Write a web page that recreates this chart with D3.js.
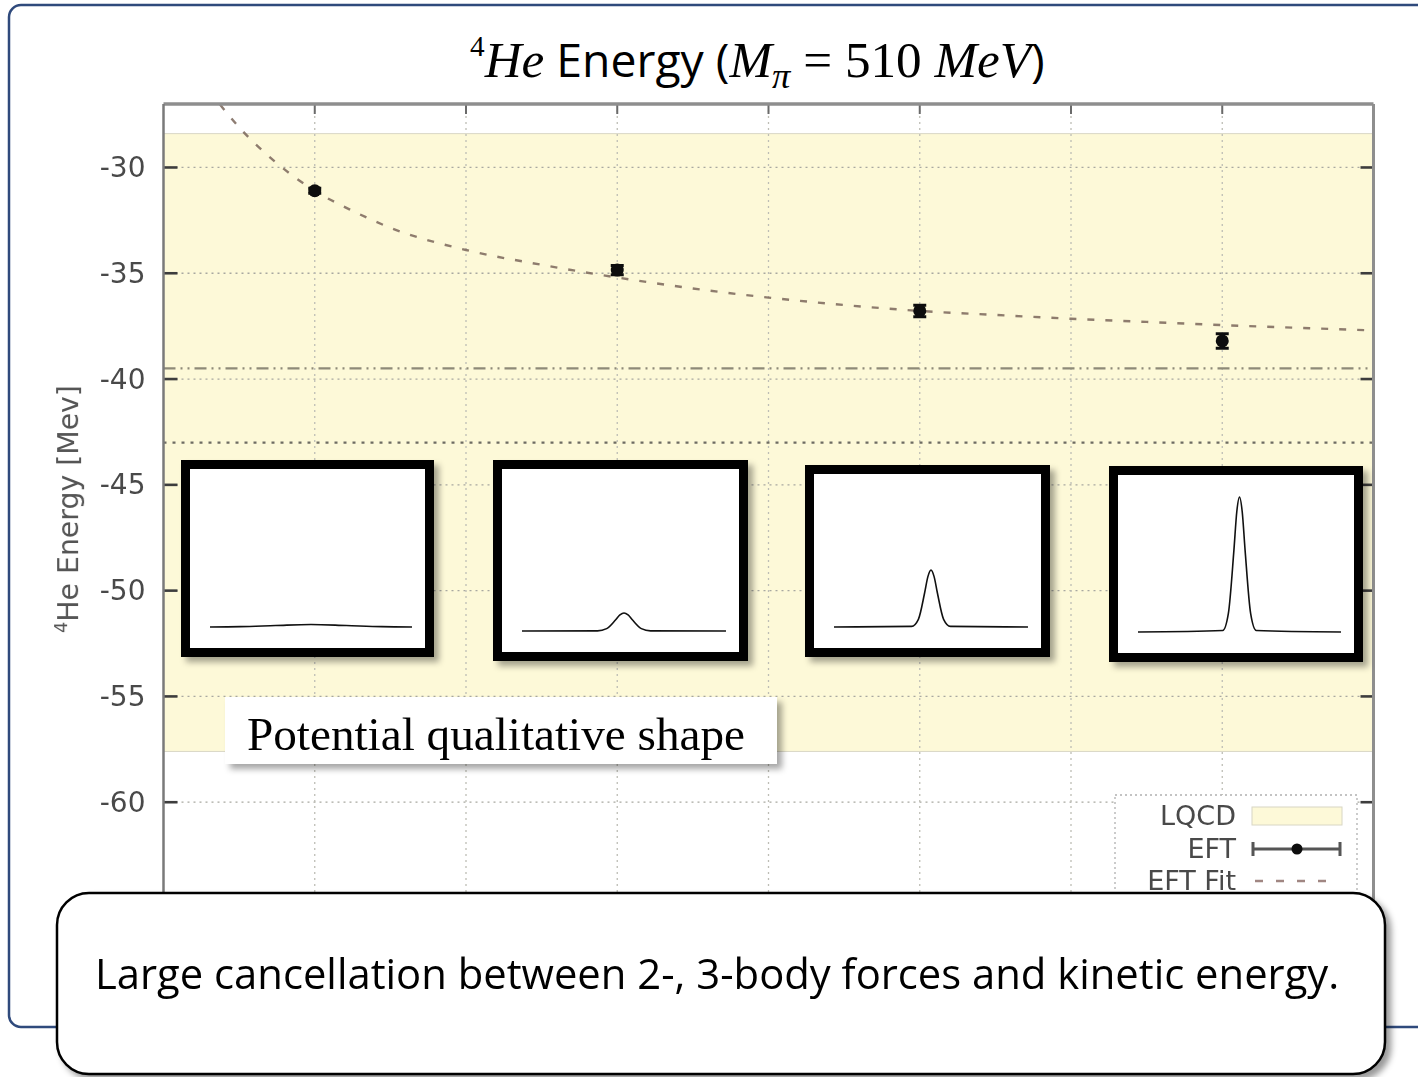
<!DOCTYPE html>
<html>
<head>
<meta charset="utf-8">
<script src="https://cdn.jsdelivr.net/npm/d3@7"></script>
<style>
  html, body { margin: 0; padding: 0; background: #ffffff; }
  svg { display: block; }
</style>
</head>
<body>
<svg id="chart" width="1418" height="1077"></svg>
<script>
// ---- data -------------------------------------------------------------
// x positions of the vertical grid, y tick values
const xGrid  = [0, 1, 2, 3, 4, 5, 6, 7, 8];
const yTicks = [-30, -35, -40, -45, -50, -55, -60];

// EFT results (MeV) with uncertainties
const eftX   = [1, 3, 5, 7];
const eftE   = [-31.1, -34.85, -36.78, -38.2];
const eftErr = [0.12, 0.22, 0.27, 0.34];

// EFT fit curve (MeV)
const fitX = [0.3, 0.5, 0.75, 1.0, 1.25, 1.5, 2.0, 2.5, 3.0, 3.5, 4.0, 4.5, 5.0, 5.5, 6.0, 6.5, 7.0, 7.5, 8.0];
const fitE = [-26.35, -28.1, -29.8, -31.1, -32.05, -32.85, -33.9, -34.6, -35.2, -35.72, -36.15, -36.5, -36.78, -36.97, -37.15, -37.3, -37.45, -37.58, -37.7];

// LQCD result: central value and error band, plus a reference level
const lqcdCentral = -43.0;
const lqcdError   = 14.6;
const refLevel    = -39.5;

const legendLabels = ["LQCD", "EFT", "EFT Fit"];

// Qualitative potential shapes (u: -1..1 across, h: relative height)
const shapeU = [
  [-1, -0.7, -0.35, 0, 0.35, 0.7, 1],
  [-1, -0.26, -0.17, -0.084, -0.04, 0, 0.04, 0.084, 0.17, 0.26, 1],
  [-1, -0.2, -0.13, -0.065, -0.032, 0, 0.032, 0.065, 0.13, 0.2, 1],
  [-1, -0.165, -0.11, -0.055, -0.027, 0, 0.027, 0.055, 0.11, 0.165, 1]
];
const shapeH = [
  [0, 0.0023, 0.01, 0.017, 0.01, 0.0023, 0],
  [0, 0.001, 0.016, 0.073, 0.107, 0.12, 0.107, 0.073, 0.016, 0.001, 0],
  [0, 0.004, 0.051, 0.23, 0.336, 0.38, 0.336, 0.23, 0.051, 0.004, 0],
  [0, 0.01, 0.122, 0.546, 0.80, 0.9, 0.80, 0.546, 0.122, 0.01, 0]
];

const titleParts = ["4", "He", " Energy (", "M", "π", " = 510 ", "MeV", ")"];
const yLabelParts = ["4", "He Energy [Mev]"];
const shapeCaption = "Potential qualitative shape";
const noteText = "Large cancellation between 2-, 3-body forces and kinetic energy.";

// ---- layout -----------------------------------------------------------
const svg = d3.select("#chart");
const plot = { left: 163.5, right: 1373.5, top: 104, bottom: 908 };

const x = d3.scaleLinear().domain([0, 8]).range([plot.left, plot.right]);
const y = d3.scaleLinear().domain([-65, -27]).range([plot.bottom, plot.top]);

const defs = svg.append("defs");
defs.append("clipPath").attr("id", "plotClip")
  .append("rect")
  .attr("x", plot.left).attr("y", plot.top)
  .attr("width", plot.right - plot.left).attr("height", plot.bottom - plot.top);

const soft = defs.append("filter").attr("id", "soft")
  .attr("x", "-5%").attr("y", "-5%").attr("width", "110%").attr("height", "110%");
soft.append("feGaussianBlur").attr("stdDeviation", 0.6);

function shadowFilter(id, dx, dy, sd, op) {
  const f = defs.append("filter").attr("id", id)
    .attr("x", "-10%").attr("y", "-10%").attr("width", "125%").attr("height", "130%");
  f.append("feDropShadow").attr("dx", dx).attr("dy", dy)
    .attr("stdDeviation", sd).attr("flood-color", "#000").attr("flood-opacity", op);
}
shadowFilter("boxShadow", 5, 5, 3, 0.35);
shadowFilter("noteShadow", 5, 5, 3, 0.4);

// scale a text group uniformly so it spans [x0, x0+width]
function fitText(g, x0, y0, width, rotate) {
  const b = g.node().getBBox();
  const s = width / b.width;
  const r = rotate ? ` rotate(${rotate})` : "";
  g.attr("transform", `translate(${x0},${y0})${r} scale(${s}) translate(${-b.x},0)`);
}

// ---- outer frame ------------------------------------------------------
svg.append("rect")
  .attr("x", 9).attr("y", 5).attr("width", 1500).attr("height", 1022)
  .attr("rx", 12)
  .attr("fill", "none").attr("stroke", "#2f4a7c").attr("stroke-width", 2.5);

// ---- title ------------------------------------------------------------
const serif = "'Liberation Serif', 'DejaVu Serif', serif";
const sans = "'Open Sans', 'Noto Sans', sans-serif";
const tg = svg.append("g");
const tt = tg.append("text").attr("x", 0).attr("y", 0).attr("fill", "#000");
tt.append("tspan").text(titleParts[0]).attr("font-family", serif).attr("font-size", 24).attr("dy", -17);
tt.append("tspan").text(titleParts[1]).attr("font-family", serif).attr("font-style", "italic").attr("font-size", 42).attr("dy", 17);
tt.append("tspan").text(titleParts[2]).attr("font-family", sans).attr("font-size", 38);
tt.append("tspan").text(titleParts[3]).attr("font-family", serif).attr("font-style", "italic").attr("font-size", 42);
tt.append("tspan").text(titleParts[4]).attr("font-family", serif).attr("font-style", "italic").attr("font-size", 30).attr("dy", 9);
tt.append("tspan").text(titleParts[5]).attr("font-family", serif).attr("font-size", 42).attr("dy", -9).style("white-space", "pre");
tt.append("tspan").text(titleParts[6]).attr("font-family", serif).attr("font-style", "italic").attr("font-size", 42);
tt.append("tspan").text(titleParts[7]).attr("font-family", sans).attr("font-size", 38);
tt.attr("xml:space", "preserve");
fitText(tg, 470, 77, 575);

// ---- plot -------------------------------------------------------------
const chart = svg.append("g").attr("filter", "url(#soft)");

chart.append("rect")
  .attr("x", plot.left).attr("y", plot.top)
  .attr("width", plot.right - plot.left).attr("height", plot.bottom - plot.top)
  .attr("fill", "#ffffff");

const inner = chart.append("g").attr("clip-path", "url(#plotClip)");

// LQCD band
inner.append("rect")
  .attr("x", plot.left).attr("width", plot.right - plot.left)
  .attr("y", y(lqcdCentral + lqcdError))
  .attr("height", y(lqcdCentral - lqcdError) - y(lqcdCentral + lqcdError))
  .attr("fill", "#fdf9d8").attr("stroke", "#d9d7c6").attr("stroke-width", 1);

// grid
inner.selectAll(".hgrid").data(yTicks).join("line")
  .attr("x1", plot.left).attr("x2", plot.right)
  .attr("y1", d => y(d)).attr("y2", d => y(d))
  .attr("stroke", "#a8a8a0").attr("stroke-width", 1.3).attr("stroke-dasharray", "2,4");
inner.selectAll(".vgrid").data(xGrid.slice(1, -1)).join("line")
  .attr("x1", d => x(d)).attr("x2", d => x(d))
  .attr("y1", plot.top).attr("y2", plot.bottom)
  .attr("stroke", "#bdbdb5").attr("stroke-width", 1.3).attr("stroke-dasharray", "2,4");

// reference levels
inner.append("line")
  .attr("x1", plot.left).attr("x2", plot.right)
  .attr("y1", y(refLevel)).attr("y2", y(refLevel))
  .attr("stroke", "#8e8a78").attr("stroke-width", 2.2)
  .attr("stroke-dasharray", "12,5,2,5,2,5");
inner.append("line")
  .attr("x1", plot.left).attr("x2", plot.right)
  .attr("y1", y(lqcdCentral)).attr("y2", y(lqcdCentral))
  .attr("stroke", "#6e6c62").attr("stroke-width", 2.2)
  .attr("stroke-dasharray", "3,6");

// fit curve
const fitLine = d3.line().x(d => x(d[0])).y(d => y(d[1])).curve(d3.curveMonotoneX);
inner.append("path")
  .datum(fitX.map((v, i) => [v, fitE[i]]))
  .attr("d", fitLine)
  .attr("fill", "none").attr("stroke", "#7a665a").attr("stroke-width", 2.4)
  .attr("stroke-dasharray", "7,11").attr("opacity", 0.85);

// EFT points with error bars
const pts = inner.selectAll(".eft").data(eftX.map((v, i) => ({ x: v, e: eftE[i], err: eftErr[i] })))
  .join("g");
pts.append("line")
  .attr("x1", d => x(d.x)).attr("x2", d => x(d.x))
  .attr("y1", d => y(d.e + d.err)).attr("y2", d => y(d.e - d.err))
  .attr("stroke", "#111").attr("stroke-width", 4);
pts.selectAll(".cap").data(d => [d.e + d.err, d.e - d.err].map(v => ({ x: d.x, v })))
  .join("line")
  .attr("x1", d => x(d.x) - 6.5).attr("x2", d => x(d.x) + 6.5)
  .attr("y1", d => y(d.v)).attr("y2", d => y(d.v))
  .attr("stroke", "#111").attr("stroke-width", 3);
pts.append("circle")
  .attr("cx", d => x(d.x)).attr("cy", d => y(d.e)).attr("r", 6.5)
  .attr("fill", "#0a0a0a");

// legend
const lg = inner.append("g");
lg.append("rect")
  .attr("x", 1115).attr("y", 795).attr("width", 242).attr("height", 120)
  .attr("fill", "#ffffff").attr("stroke", "#b0b0b0").attr("stroke-width", 1.3)
  .attr("stroke-dasharray", "2,3");
lg.selectAll("text").data(legendLabels).join("text")
  .attr("x", 1236).attr("y", (d, i) => 825 + i * 32.5)
  .attr("text-anchor", "end")
  .attr("font-family", "'DejaVu Sans', sans-serif").attr("font-size", 27)
  .attr("fill", "#4a4a4a").text(d => d);
lg.append("rect")
  .attr("x", 1252).attr("y", 807).attr("width", 90).attr("height", 18)
  .attr("fill", "#fdf9d8").attr("stroke", "#d8d6c4");
lg.append("line").attr("x1", 1253).attr("x2", 1340).attr("y1", 849).attr("y2", 849)
  .attr("stroke", "#555").attr("stroke-width", 3);
[1253, 1340].forEach(cx => lg.append("line")
  .attr("x1", cx).attr("x2", cx).attr("y1", 842).attr("y2", 856)
  .attr("stroke", "#555").attr("stroke-width", 3));
lg.append("circle").attr("cx", 1297).attr("cy", 849).attr("r", 5.5).attr("fill", "#0a0a0a");
lg.append("line").attr("x1", 1255).attr("x2", 1335).attr("y1", 881).attr("y2", 881)
  .attr("stroke", "#a08682").attr("stroke-width", 2.4).attr("stroke-dasharray", "8,13");

// ticks
const ticks = chart.append("g").attr("stroke", "#3e3e3e").attr("stroke-width", 2.6);
yTicks.forEach(v => {
  ticks.append("line").attr("x1", plot.left).attr("x2", plot.left + 14).attr("y1", y(v)).attr("y2", y(v));
  ticks.append("line").attr("x1", plot.right - 13).attr("x2", plot.right).attr("y1", y(v)).attr("y2", y(v));
});
xGrid.slice(1, -1).forEach(v => {
  ticks.append("line").attr("x1", x(v)).attr("x2", x(v)).attr("y1", plot.top).attr("y2", plot.top + 10)
    .attr("stroke", "#6a6a6a").attr("stroke-width", 2);
});

// border
chart.append("line").attr("x1", plot.left).attr("x2", plot.right).attr("y1", plot.top).attr("y2", plot.top)
  .attr("stroke", "#8e8e8e").attr("stroke-width", 3.5);
chart.append("line").attr("x1", plot.left).attr("x2", plot.left).attr("y1", plot.top).attr("y2", plot.bottom)
  .attr("stroke", "#7a7a7a").attr("stroke-width", 2.5);
chart.append("line").attr("x1", plot.right).attr("x2", plot.right).attr("y1", plot.top).attr("y2", plot.bottom)
  .attr("stroke", "#8e8e8e").attr("stroke-width", 3);

// y axis labels
const yAxis = chart.append("g")
  .attr("transform", `translate(${plot.left},0)`)
  .call(d3.axisLeft(y).tickValues(yTicks).tickSize(0).tickPadding(18).tickFormat(d => String(d)));
yAxis.select(".domain").remove();
yAxis.selectAll("text")
  .attr("font-family", "'DejaVu Sans', sans-serif").attr("font-size", 28)
  .attr("fill", "#4a4a4a");

// y axis title
const yl = chart.append("g");
const ylt = yl.append("text").attr("x", 0).attr("y", 0)
  .attr("font-family", "'DejaVu Sans', sans-serif").attr("fill", "#555");
ylt.append("tspan").text(yLabelParts[0]).attr("font-size", 15).attr("dy", -9);
ylt.append("tspan").text(yLabelParts[1]).attr("font-size", 24).attr("dy", 9);
fitText(yl, 78, 633, 248, -90);

// ---- inset panels: qualitative potential shapes -----------------------
const insets = [
  { left: 181, top: 460, right: 434, bottom: 657 },
  { left: 493, top: 460, right: 748, bottom: 661 },
  { left: 805, top: 465, right: 1050, bottom: 657 },
  { left: 1109, top: 466, right: 1363, bottom: 662 }
];
insets.forEach((b, i) => {
  const g = svg.append("g");
  g.append("rect")
    .attr("x", b.left + 4.5).attr("y", b.top + 4.5)
    .attr("width", b.right - b.left - 9).attr("height", b.bottom - b.top - 9)
    .attr("fill", "#fff").attr("stroke", "#000").attr("stroke-width", 9)
    .attr("filter", "url(#boxShadow)");
  const sx = d3.scaleLinear().domain([-1, 1]).range([b.left + 29, b.right - 22]);
  const sy = d3.scaleLinear().domain([0, 1]).range([b.bottom - 30, b.bottom - 180]);
  const line = d3.line().x(d => sx(d[0])).y(d => sy(d[1])).curve(d3.curveMonotoneX);
  g.append("path")
    .datum(shapeU[i].map((u, k) => [u, shapeH[i][k]]))
    .attr("d", line)
    .attr("fill", "none").attr("stroke", "#111").attr("stroke-width", 1.6);
});

// caption box
svg.append("rect")
  .attr("x", 225).attr("y", 697).attr("width", 552).attr("height", 67)
  .attr("fill", "#fff").attr("filter", "url(#boxShadow)");
const cg = svg.append("g");
cg.append("text").attr("x", 0).attr("y", 0)
  .attr("font-family", serif).attr("font-size", 40).attr("fill", "#000")
  .text(shapeCaption);
fitText(cg, 247, 750, 498);

// ---- note box ---------------------------------------------------------
svg.append("rect")
  .attr("x", 57).attr("y", 893).attr("width", 1328).attr("height", 181)
  .attr("rx", 32).attr("ry", 32)
  .attr("fill", "#fff").attr("stroke", "#000").attr("stroke-width", 2.5)
  .attr("filter", "url(#noteShadow)");
const ng = svg.append("g");
ng.append("text").attr("x", 0).attr("y", 0)
  .attr("font-family", sans).attr("font-size", 34).attr("fill", "#000")
  .text(noteText);
fitText(ng, 95, 989, 1245);
</script>
</body>
</html>
